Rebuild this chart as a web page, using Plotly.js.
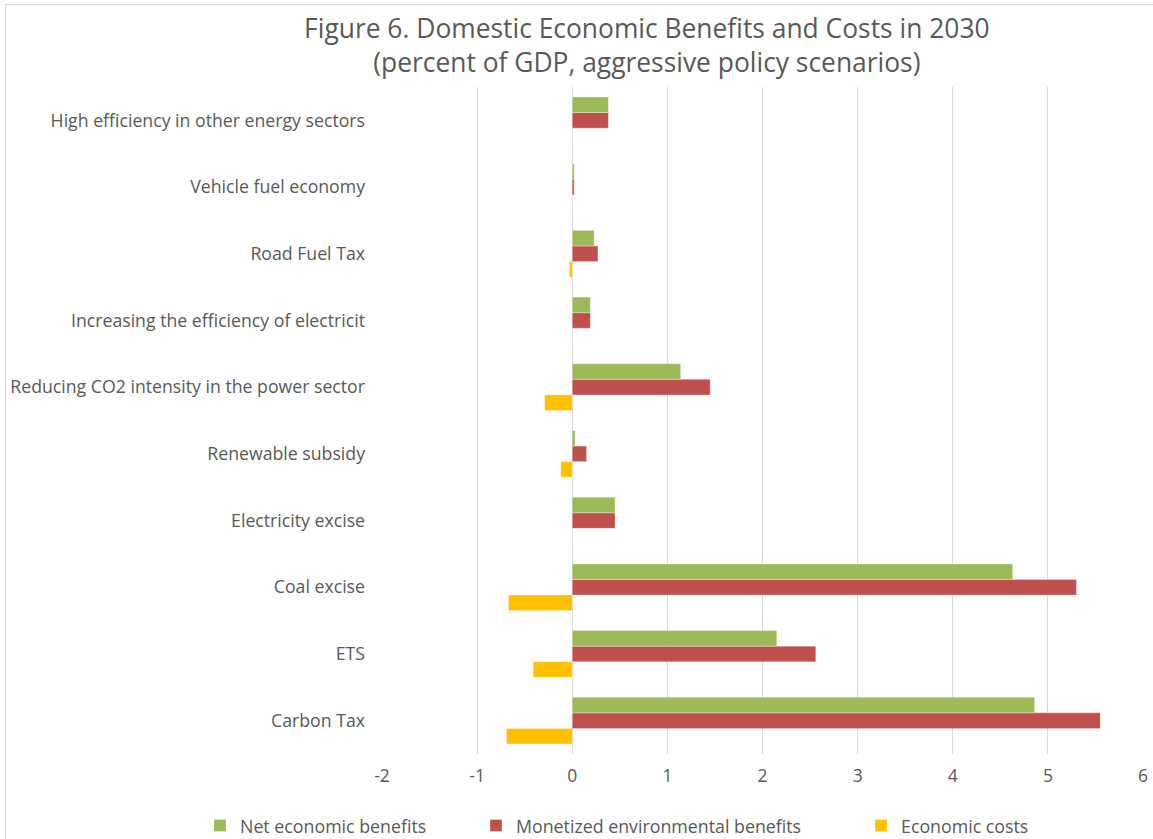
<!DOCTYPE html>
<html>
<head>
<meta charset="utf-8">
<script src="https://cdn.plot.ly/plotly-3.0.1.min.js"></script>
<style>
  html, body { margin: 0; padding: 0; background: #fff; }
  #wrap { position: relative; width: 1153px; height: 839px; overflow: hidden; }
  #chart { position: absolute; left: 0; top: 0; width: 1153px; height: 839px; }
  #frame { position: absolute; left: 5px; top: 4px; width: 1160px; height: 850px; border: 1px solid #D9D9D9; pointer-events: none; }
</style>
</head>
<body>
<div id="wrap">
  <div id="chart"></div>
  <div id="frame"></div>
</div>
<script>
// Categories listed bottom to top
const categories = [
  "Carbon Tax",
  "ETS",
  "Coal excise",
  "Electricity excise",
  "Renewable subsidy",
  "Reducing CO2 intensity in the power sector",
  "Increasing the efficiency of electricit",
  "Road Fuel Tax",
  "Vehicle fuel economy",
  "High efficiency in other energy sectors"
];
const netEconomicBenefits = [4.86, 2.15, 4.63, 0.45, 0.03, 1.14, 0.19, 0.23, 0.02, 0.38];
const monetizedEnvBenefits = [5.55, 2.56, 5.30, 0.45, 0.15, 1.45, 0.19, 0.27, 0.02, 0.38];
const economicCosts = [-0.69, -0.41, -0.67, 0, -0.12, -0.29, 0, -0.03, 0, 0];
const xTickVals = [-2, -1, 0, 1, 2, 3, 4, 5, 6];
const seriesNames = ["Net economic benefits", "Monetized environmental benefits", "Economic costs"];

const FONT = "'Open Sans', Lato, sans-serif";
const TXT = "#595959";

// trace order bottom-to-top within group: costs, env, net
const traces = [
  { name: seriesNames[2], x: economicCosts, color: "#FFC000", legend: "legend3" },
  { name: seriesNames[1], x: monetizedEnvBenefits, color: "#C0504D", legend: "legend2" },
  { name: seriesNames[0], x: netEconomicBenefits, color: "#9BBB59", legend: "legend" }
].map(s => ({
  type: "bar",
  orientation: "h",
  name: s.name,
  x: s.x,
  y: categories,
  legend: s.legend,
  marker: { color: s.color, line: { color: "rgba(255,255,255,0.6)", width: 0.5 } },
  hoverinfo: "x+y+name"
}));

function legendAt(px) {
  return {
    orientation: "h",
    x: px / 1153,
    xanchor: "left",
    xref: "container",
    y: 0.0155,
    yref: "container",
    yanchor: "middle",
    font: { family: FONT, size: 17.8, color: TXT },
    bgcolor: "rgba(0,0,0,0)"
  };
}

const layout = {
  width: 1153,
  height: 839,
  paper_bgcolor: "#ffffff",
  plot_bgcolor: "#ffffff",
  font: { family: FONT, color: TXT, size: 17.5 },
  margin: { l: 382, r: 10, t: 87, b: 85, autoexpand: false },
  barmode: "group",
  bargap: 0.3,
  bargroupgap: 0,
  title: {
    text: "Figure 6. Domestic Economic Benefits and Costs in 2030<br>(percent of GDP, aggressive policy scenarios)",
    font: { family: FONT, size: 26.4, color: TXT },
    x: 0.561,
    xref: "container",
    xanchor: "center",
    y: 0.955,
    yref: "container",
    yanchor: "top",
    automargin: false
  },
  xaxis: {
    range: [-2, 6],
    tickvals: xTickVals,
    ticktext: xTickVals.map(String),
    showgrid: true,
    gridcolor: "#D9D9D9",
    gridwidth: 1,
    zeroline: true,
    zerolinecolor: "#D9D9D9",
    zerolinewidth: 1,
    showline: false,
    ticks: "",
    ticklabelstandoff: 9,
    tickfont: { family: FONT, size: 17.5, color: TXT },
    fixedrange: true
  },
  yaxis: {
    type: "category",
    categoryorder: "array",
    categoryarray: categories,
    showgrid: false,
    zeroline: false,
    showline: false,
    ticks: "",
    ticklabelstandoff: 16,
    tickfont: { family: FONT, size: 17.7, color: TXT },
    fixedrange: true
  },
  showlegend: true,
  legend: legendAt(200),
  legend2: legendAt(476),
  legend3: legendAt(861)
};

Plotly.newPlot("chart", traces, layout, { displayModeBar: false, staticPlot: false });
</script>
</body>
</html>
